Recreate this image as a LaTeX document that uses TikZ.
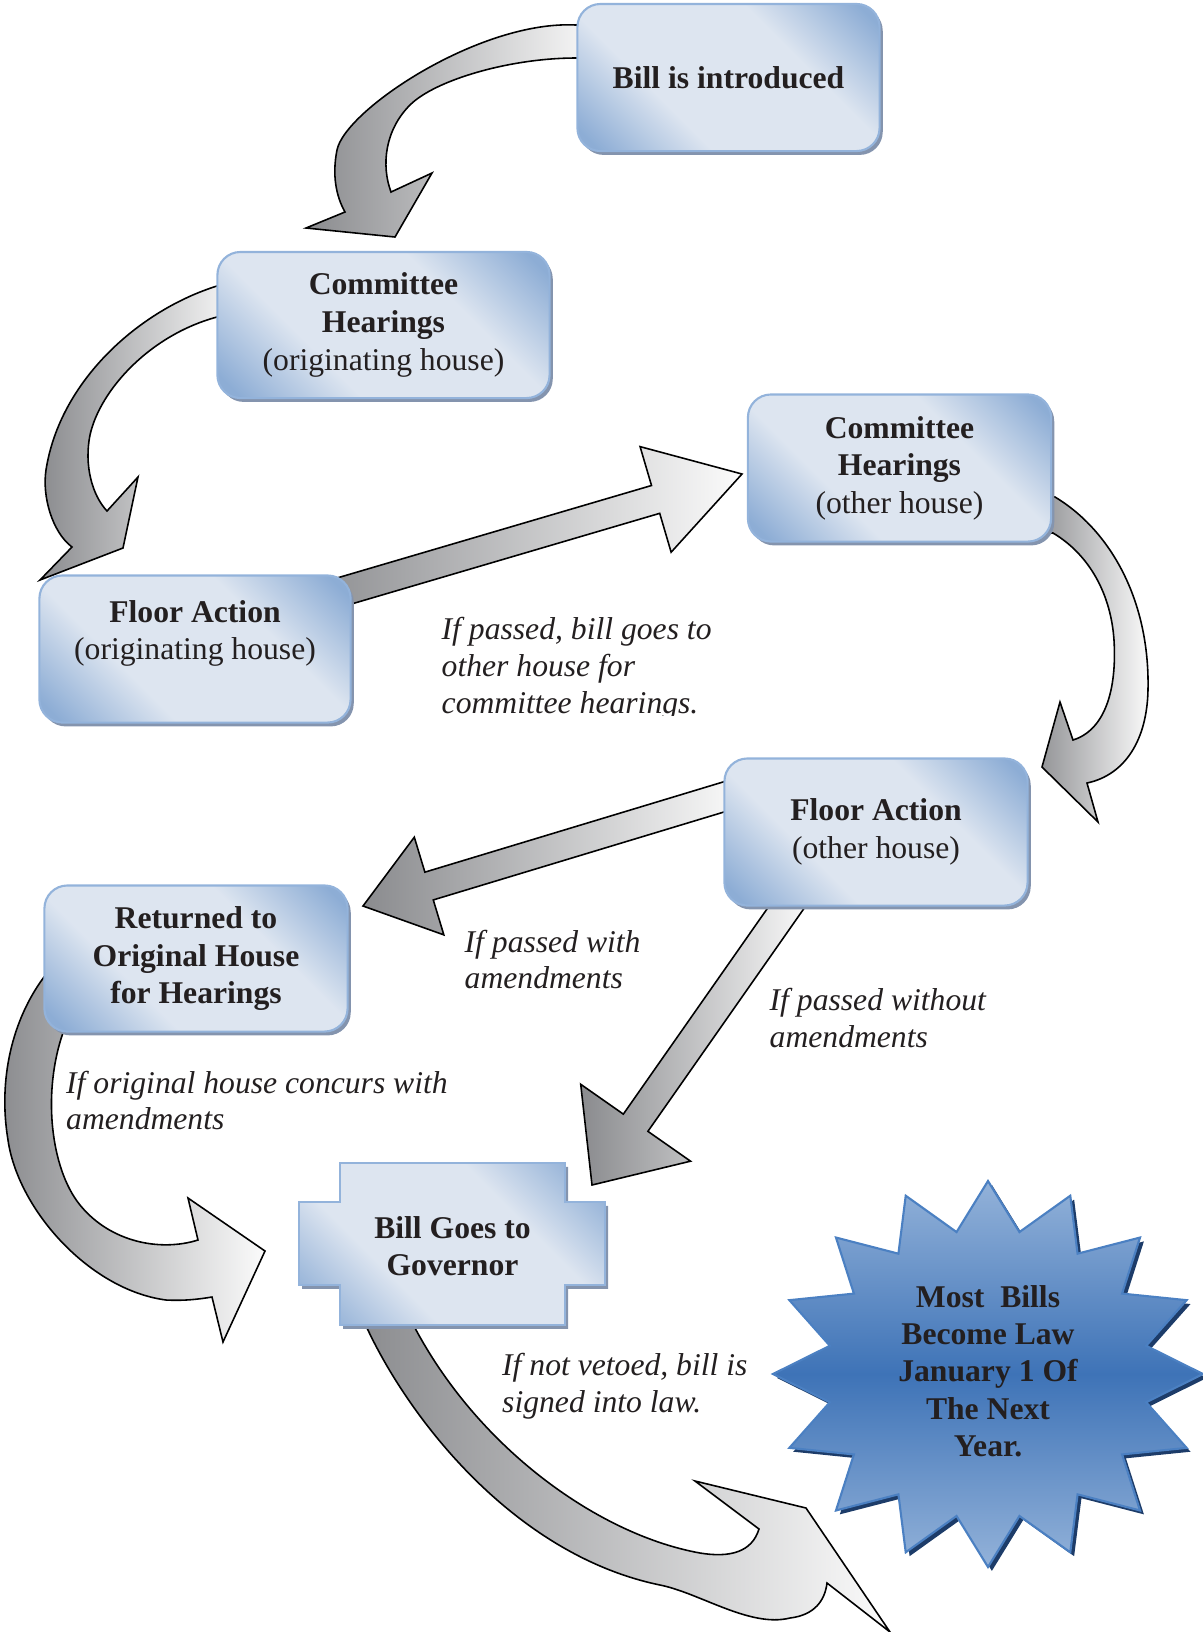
\documentclass[tikz,border=0pt]{standalone}
\usepackage{fontspec}
\setmainfont{Liberation Serif}
\usetikzlibrary{calc,backgrounds}

\definecolor{boxblue}{HTML}{8DADD5}
\definecolor{boxlight}{HTML}{DDE5F0}
\definecolor{boxborder}{HTML}{93B3DB}
\definecolor{boxshadow}{HTML}{8494AE}
\definecolor{arrowdark}{HTML}{8A8B8E}
\definecolor{arrowlight}{HTML}{FBFBFB}
\definecolor{starlight}{HTML}{93B2D9}
\definecolor{stardark}{HTML}{3E73B7}
\definecolor{starborder}{HTML}{4B80C2}
\definecolor{starshadow}{HTML}{1D3C69}
\definecolor{inkdark}{HTML}{231F20}

\pgfdeclarehorizontalshading{boxshade}{100bp}{color(0bp)=(boxblue); color(18bp)=(boxblue);
  color(36bp)=(boxlight); color(64bp)=(boxlight); color(82bp)=(boxblue); color(100bp)=(boxblue)}
\pgfdeclareverticalshading{starshade}{100bp}{color(0bp)=(starlight); color(25bp)=(starlight);
  color(50bp)=(stardark); color(75bp)=(starlight); color(100bp)=(starlight)}

% straight block arrow: tail, tip, half width, head half width, head length
\newcommand{\blockarrow}[5]{%
  \coordinate (ba-base) at ($(#2)!#5!(#1)$);
  \path[bigarrow] ($(#1)!#3!90:(#2)$) -- ($(ba-base)!#3!90:(#2)$)
    -- ($(ba-base)!#4!90:(#2)$) -- (#2) -- ($(ba-base)!#4!-90:(#2)$)
    -- ($(ba-base)!#3!-90:(#2)$) -- ($(#1)!#3!-90:(#2)$) -- cycle;}

\begin{document}
\begin{tikzpicture}[x=0.01cm, y=-0.01cm,
    box/.style={rectangle, rounded corners=0.23cm, draw=boxborder, line width=0.6pt,
      shading=boxshade, shading angle=45, align=center, text=inkdark,
      minimum width=3.03cm, minimum height=1.47cm, font=\fontsize{9}{10.7}\selectfont,
      preaction={fill=boxshadow, transform canvas={xshift=0.9pt, yshift=-1.1pt}}},
    govshape/.style={draw=boxborder, line width=0.6pt, shading=boxshade, shading angle=45,
      preaction={fill=boxshadow, transform canvas={xshift=0.9pt, yshift=-1.1pt}}},
    lawstar/.style={draw=starborder, line width=0.6pt, shading=starshade,
      preaction={fill=starshadow, transform canvas={xshift=1.1pt, yshift=-1.1pt}}},
    note/.style={align=left, anchor=west, inner sep=0pt, text=inkdark,
      font=\fontsize{9}{10.5}\selectfont\itshape},
    bigarrow/.style={draw=black, line width=0.45pt, left color=arrowdark, right color=arrowlight}]
  \useasboundingbox (0,0) rectangle (1202,1632);

  % boxes
  \node[box, minimum width=3.02cm] (intro) at (728.5,77.5) {\textbf{Bill is introduced}};
  \node[box, minimum width=3.32cm, minimum height=1.46cm] (chOrig) at (383.5,325)
    {\textbf{Committee}\\\textbf{Hearings}\\(originating house)};
  \node[box] (chOther) at (899.5,468) {\textbf{Committee}\\\textbf{Hearings}\\(other house)};
  \node[box, minimum width=3.11cm] (faOrig) at (195,649)
    {\textbf{Floor Action}\\(originating house)\\\mbox{}};
  \node[box] (faOther) at (876,832) {\textbf{Floor Action}\\(other house)};
  \node[box, minimum height=1.46cm] (back) at (196,958.5)
    {\textbf{Returned to}\\\textbf{Original House}\\\textbf{for Hearings}};

  % governor
  \path[govshape] (340,1163) -- (565,1163) -- (565,1202) -- (605,1202) -- (605,1285)
    -- (565,1285) -- (565,1325) -- (340,1325) -- (340,1285) -- (299,1285)
    -- (299,1202) -- (340,1202) -- cycle;
  \node[align=center, text=inkdark, font=\fontsize{9}{10.7}\selectfont\bfseries] (gov)
    at (452.5,1246) {Bill Goes to\\Governor};

  % star
  \path[lawstar, shift={(988,1374)}] (0:215 and 193)
    \foreach \i in {1,...,31} {
      -- ({11.25*\i}:{215*(0.875+0.125*cos(180*\i))} and {193*(0.875+0.125*cos(180*\i))}) }
    -- cycle;
  \node[align=center, text=inkdark, font=\fontsize{9}{10.6}\selectfont\bfseries] (law)
    at (988,1371) {Most\ \ Bills\\Become Law\\January 1 Of\\The Next\\Year.};

  % notes
  \begin{scope}
    \clip (400,560) rectangle (760,715);
    \node[note] (nPass) at (441,668.5) {If passed, bill goes to\\other house for\\committee hearings.};
  \end{scope}
  \node[note] (nWith) at (464,959.5) {If passed with\\amendments};
  \node[note] (nWithout) at (769,1018) {If passed without\\amendments};
  \node[note] (nConcur) at (65.5,1100.5) {If original house concurs with\\amendments};
  \node[note] (nSigned) at (501.5,1386) {If not vetoed, bill is\\signed into law.};

  \begin{scope}[on background layer]
    % curved arrows
    \path[bigarrow] (600,25) -- (576,25) .. controls (480,20) and (345,110) .. (337,150)
      .. controls (332,175) and (336,196) .. (345,212) -- (306,228) -- (395,237) -- (432,173)
      -- (391,192) .. controls (381,165) and (385,130) .. (410,105)
      .. controls (435,80) and (510,58) .. (576,58) -- (600,58) -- cycle;
    \path[bigarrow] (240,286) -- (217,286) .. controls (140,310) and (60,380) .. (46,470)
      .. controls (42,496) and (52,532) .. (72,547) -- (40,580) -- (123,548) -- (138,477)
      -- (107,511) .. controls (92,495) and (84,465) .. (90,435)
      .. controls (100,390) and (150,335) .. (217,317) -- (240,317) -- cycle;
    \path[bigarrow] (1030,497) -- (1055,497) .. controls (1110,530) and (1150,600) .. (1148,690)
      .. controls (1147,740) and (1125,775) .. (1087,783) -- (1098,822) -- (1042,767) -- (1060,702)
      -- (1073,740) .. controls (1105,730) and (1117,690) .. (1114,640)
      .. controls (1111,595) and (1090,555) .. (1053,533) -- (1030,533) -- cycle;
    \path[bigarrow] (70,960) -- (44,977) .. controls (12,1020) and (-2,1080) .. (8,1140)
      .. controls (18,1210) and (90,1290) .. (166,1300) .. controls (185,1301) and (200,1299) .. (212,1297)
      -- (223,1342) -- (265,1251) -- (188,1198) -- (198,1240)
      .. controls (160,1252) and (110,1242) .. (80,1205) .. controls (50,1168) and (42,1090) .. (64,1030)
      -- (90,1000) -- cycle;
    \path[bigarrow] (354,1300) -- (367,1328) .. controls (410,1420) and (515,1555) .. (660,1585)
      .. controls (700,1593) and (750,1628) .. (790,1618) .. controls (815,1615) and (825,1600) .. (827,1583)
      -- (890,1632) -- (806,1508) -- (695,1481) -- (759,1529)
      .. controls (752,1552) and (730,1558) .. (700,1553) .. controls (600,1535) and (480,1450) .. (415,1328)
      -- (400,1300) -- cycle;
    % straight arrows
    \coordinate (passTail) at (300,604);
    \coordinate (passTip) at (742,474);
    \blockarrow{passTail}{passTip}{0.145cm}{0.55cm}{0.9cm}
    \coordinate (withTail) at (740,792);
    \coordinate (withTip) at (363,906);
    \blockarrow{withTail}{withTip}{0.145cm}{0.51cm}{0.69cm}
    \coordinate (withoutTail) at (800,888);
    \coordinate (withoutTip) at (592,1185);
    \blockarrow{withoutTail}{withoutTip}{0.15cm}{0.67cm}{0.76cm}
  \end{scope}
\end{tikzpicture}
\end{document}
